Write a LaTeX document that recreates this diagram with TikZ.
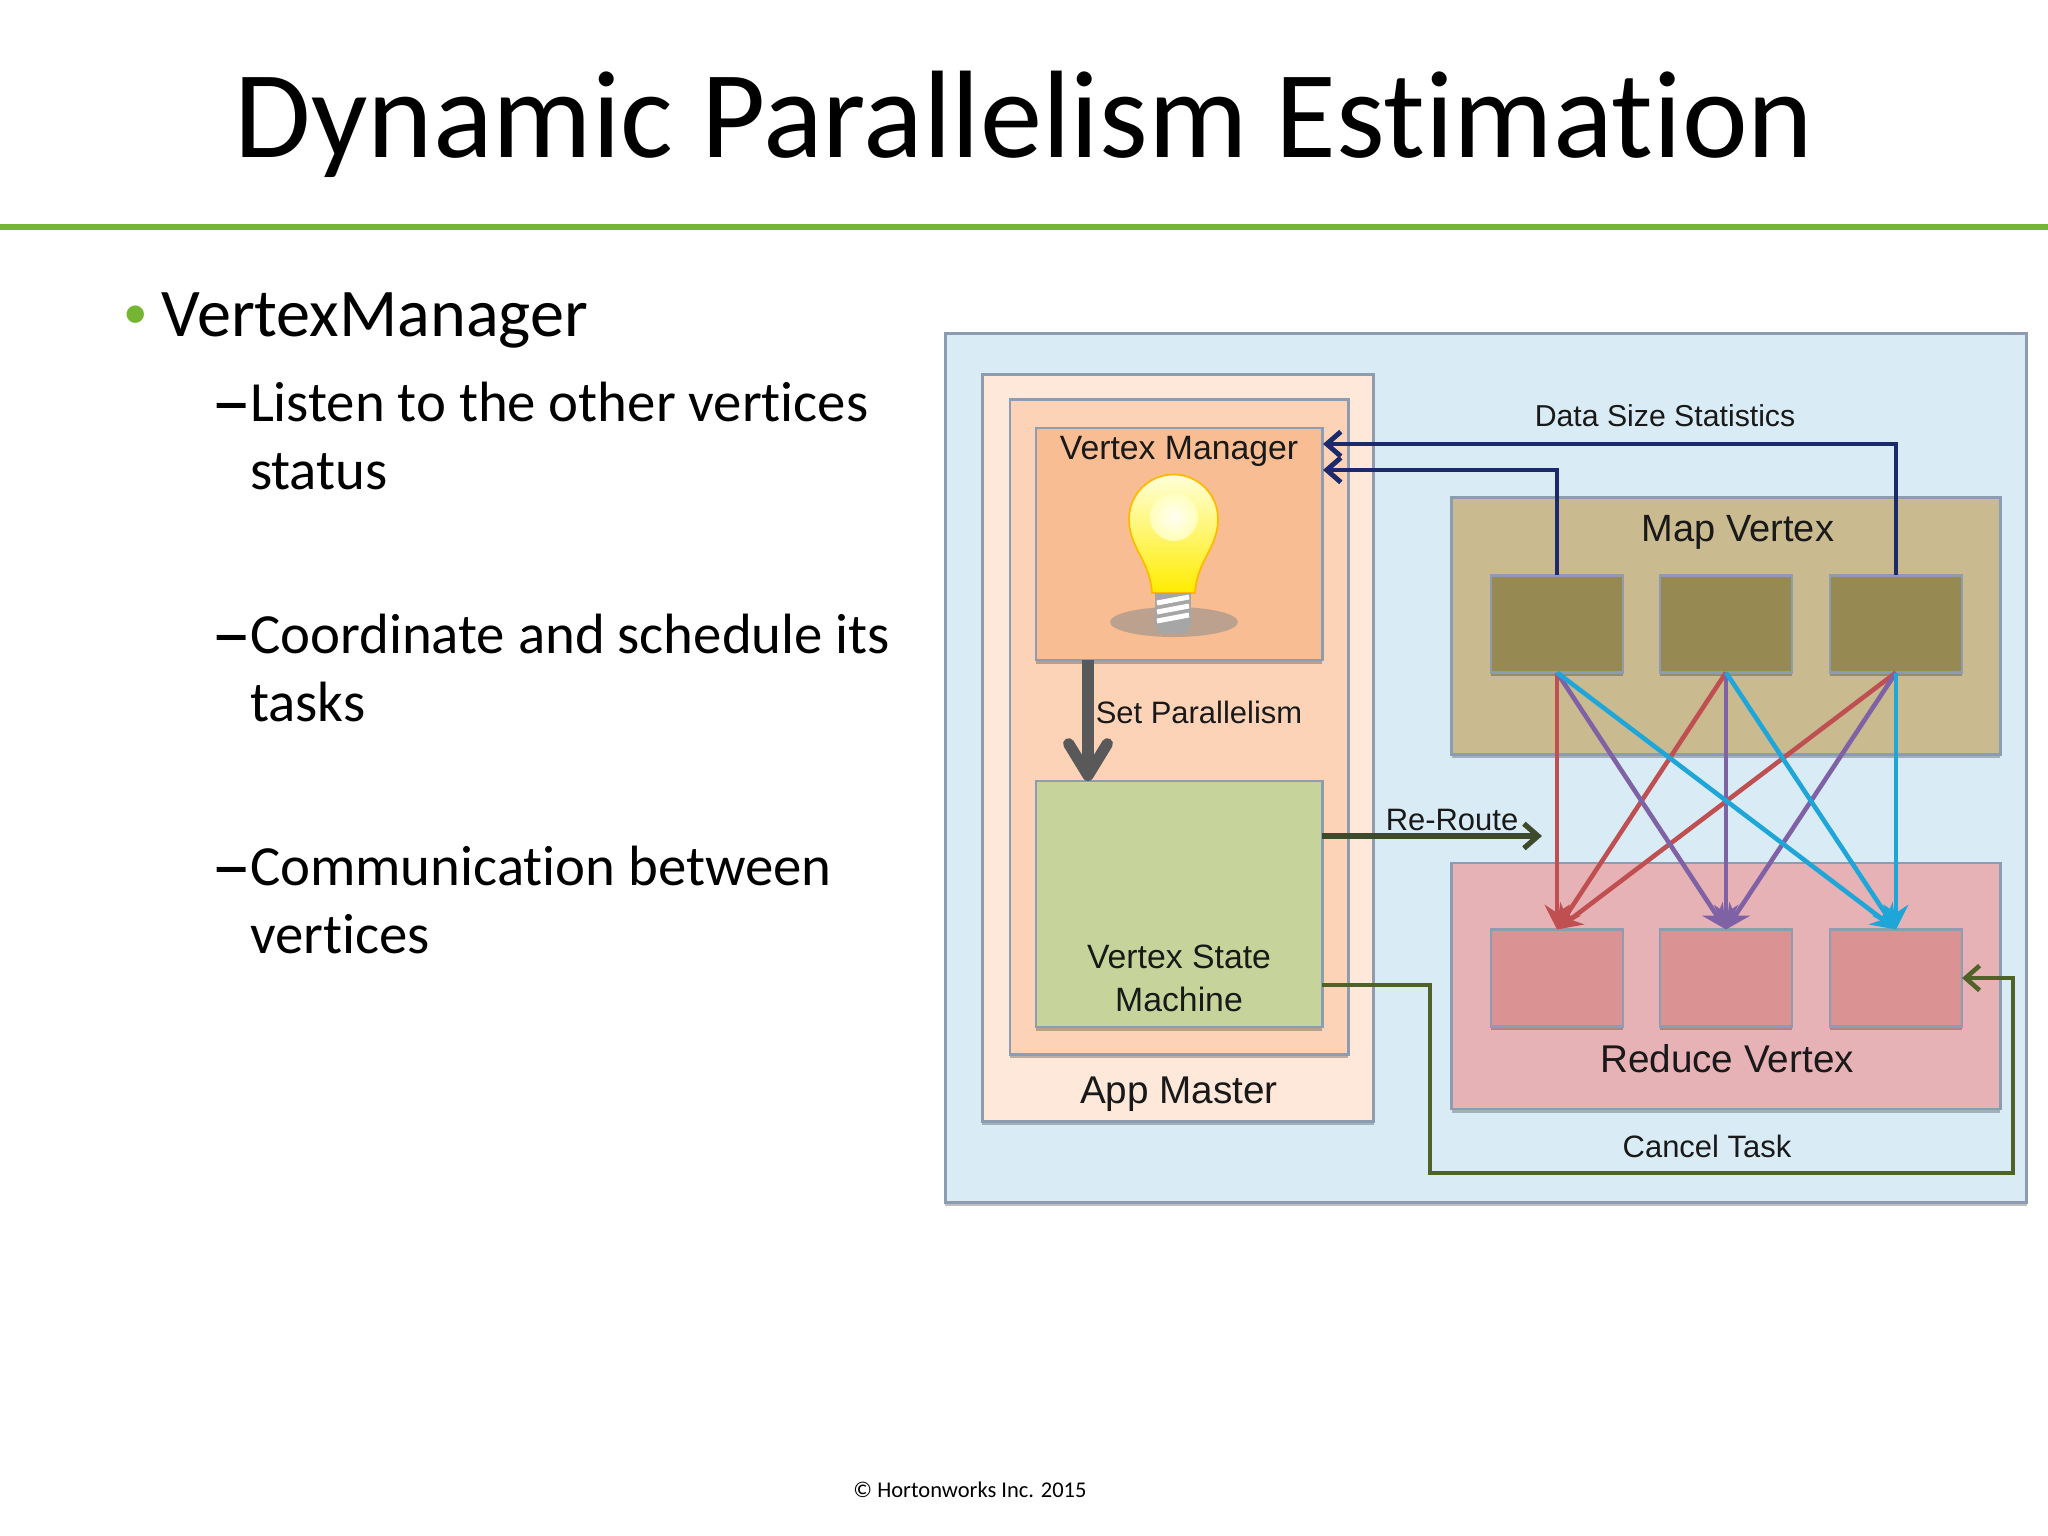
\documentclass[tikz,border=0pt]{standalone}
\usepackage{fontspec}
\setmainfont[Ligatures=NoCommon]{Carlito}
\newfontfamily\labelfont{Liberation Sans}
\usetikzlibrary{arrows.meta,shadows}
\definecolor{rulegreen}{HTML}{76B531}
\definecolor{outerfill}{HTML}{D9ECF5}
\definecolor{appfill}{HTML}{FDE8D9}
\definecolor{innerfill}{HTML}{FCD3B6}
\definecolor{managerfill}{HTML}{F8BD92}
\definecolor{statefill}{HTML}{C6D49B}
\definecolor{mapfill}{HTML}{C9BA8F}
\definecolor{maptask}{HTML}{968952}
\definecolor{reducefill}{HTML}{E7B2B5}
\definecolor{reducetask}{HTML}{DA9292}
\definecolor{boxedge}{HTML}{8E9CB2}
\definecolor{navyline}{HTML}{1B2A6B}
\definecolor{redline}{HTML}{BF4F50}
\definecolor{purpleline}{HTML}{7F62A5}
\definecolor{blueline}{HTML}{1FA6D9}
\definecolor{cancelline}{HTML}{4F6228}
\definecolor{routeline}{HTML}{3D4A2C}
\definecolor{setline}{HTML}{595959}
\tikzset{
  box/.style={draw=boxedge,line width=0.8pt,inner sep=0pt,outer sep=0pt,
    drop shadow={shadow xshift=0pt,shadow yshift=-1pt,fill=black,opacity=.25}},
  lbl/.style={inner sep=0pt,outer sep=0pt,text=black!90,align=center},
  bodytext/.style={inner sep=0pt,outer sep=0pt,align=left,anchor=north west,
    font=\fontsize{16.15}{19.3}\selectfont},
  dashmark/.style={inner sep=0pt,outer sep=0pt,anchor=base west,
    font=\fontsize{23}{24}\selectfont},
  wire/.style={line width=1.3pt,-{Stealth[length=7pt,width=7pt]}},
  barb/.style={-{Straight Barb[length=4pt,width=7pt]}}
}
\begin{document}
\begin{tikzpicture}[x=0.01cm,y=-0.01cm]
\useasboundingbox (0,0) rectangle (2048,1536);

% Título
\node[inner sep=0pt,font=\fontsize{35.4}{40}\selectfont] (title) at (1024,124) {Dynamic Parallelism Estimation};
\fill[rulegreen] (0,224) rectangle (2048,230);

% Texto de la izquierda
\node[inner sep=0pt,anchor=base west,text=rulegreen,font=\fontsize{14}{20}\selectfont] (dot) at (123,328) {•};
\node[inner sep=0pt,anchor=base west,font=\fontsize{19.4}{22}\selectfont] (head) at (161,336) {VertexManager};
\node[dashmark] (dashA) at (211,428) {–};
\node[bodytext] (itemA) at (250,382) {Listen to the other vertices\\status};
\node[dashmark] (dashB) at (211,660) {–};
\node[bodytext] (itemB) at (250,614) {Coordinate and schedule its\\tasks};
\node[dashmark] (dashC) at (211,892) {–};
\node[bodytext] (itemC) at (250,846) {Communication between\\vertices};
\node[inner sep=0pt,font=\fontsize{6.4}{8}\selectfont] (foot) at (970,1490) {© Hortonworks Inc. 2015};

% Cajas
\node[box,fill=outerfill,minimum width=10.81cm,minimum height=8.69cm] (outer) at (1486,768) {};
\node[box,fill=appfill,minimum width=3.91cm,minimum height=7.47cm] (app) at (1178,748) {};
\node[box,fill=innerfill,minimum width=3.38cm,minimum height=6.54cm] (inner) at (1179,727) {};
\node[box,fill=managerfill,minimum width=2.86cm,minimum height=2.32cm] (manager) at (1179,544) {};
\node[box,fill=statefill,minimum width=2.86cm,minimum height=2.46cm] (state) at (1179,904) {};
\node[box,fill=mapfill,minimum width=5.48cm,minimum height=2.57cm] (map) at (1726,626) {};
\node[box,fill=reducefill,minimum width=5.48cm,minimum height=2.46cm] (reduce) at (1726,986) {};

% Tareas
\node[box,fill=maptask,minimum width=1.32cm,minimum height=0.97cm] (mapA) at (1557,624) {};
\node[box,fill=maptask,minimum width=1.32cm,minimum height=0.97cm] (mapB) at (1726,624) {};
\node[box,fill=maptask,minimum width=1.32cm,minimum height=0.97cm] (mapC) at (1896,624) {};
\node[box,fill=reducetask,minimum width=1.32cm,minimum height=0.97cm] (redA) at (1557,978) {};
\node[box,fill=reducetask,minimum width=1.32cm,minimum height=0.97cm] (redB) at (1726,978) {};
\node[box,fill=reducetask,minimum width=1.32cm,minimum height=0.97cm] (redC) at (1896,978) {};

% Bombilla
\fill[black!45,opacity=.55] (1174,622) ellipse[x radius=64,y radius=15];
\shade[top color=yellow!15,bottom color=yellow!85!orange,draw=orange!55!yellow,line width=0.5pt]
(1152,593) .. controls (1150,560) and (1129,548) .. (1129,519)
arc[start angle=180,end angle=360,radius=44.5]
.. controls (1218,548) and (1197,560) .. (1195,593) -- cycle;
\shade[inner color=white,outer color=yellow!25,opacity=.9] (1174,517) circle[radius=24];
\fill[black!35] (1155,593) rectangle (1191,628);
\fill[black!35] (1158,628) rectangle (1188,633);
\draw[white,line width=1.4pt] (1157,603) -- (1189,597);
\draw[white,line width=1.4pt] (1157,612) -- (1189,606);
\draw[white,line width=1.4pt] (1157,621) -- (1189,615);

% Flechas de datos
\coordinate (inTop) at (1323,444);
\coordinate (inLow) at (1323,470);
\draw[navyline,barb,line width=1.4pt] (mapC.north) |- (inTop);
\draw[navyline,barb,line width=1.4pt] (mapA.north) |- (inLow);
\coordinate (setEnd) at (1088,781);
\draw[setline,line width=3.2pt,-{Straight Barb[length=9pt,width=11pt,round]}] (manager.south -| setEnd) -- (setEnd);

\coordinate (routeEnd) at (1542,836);
\coordinate (cancelStart) at (1322,985);
\coordinate (cancelBend) at (1430,1173);
\coordinate (cancelTop) at (2013,978);
\draw[routeline,barb,line width=1.5pt] (state.east |- routeEnd) -- (routeEnd);
\draw[cancelline,barb,line width=1.3pt] (state.east |- cancelStart) -| (cancelBend) -| (cancelTop) -- (redC.east);

% Cruces
\draw[redline,wire] (mapA.south) -- (redA.north);
\draw[redline,wire] (mapB.south) -- (redA.north);
\draw[redline,wire] (mapC.south) -- (redA.north);
\draw[purpleline,wire] (mapA.south) -- (redB.north);
\draw[purpleline,wire] (mapB.south) -- (redB.north);
\draw[purpleline,wire] (mapC.south) -- (redB.north);
\draw[blueline,wire] (mapA.south) -- (redC.north);
\draw[blueline,wire] (mapB.south) -- (redC.north);
\draw[blueline,wire] (mapC.south) -- (redC.north);

% Etiquetas
\node[lbl,font=\labelfont\fontsize{9.6}{12}\selectfont] (managerText) at (1179,451) {Vertex Manager};
\node[lbl,font=\labelfont\fontsize{8.8}{12}\selectfont] (setText) at (1199,712) {Set Parallelism};
\node[lbl,font=\labelfont\fontsize{9.6}{12.2}\selectfont] (stateText) at (1179,978) {Vertex State\\Machine};
\node[lbl,font=\labelfont\fontsize{11}{13}\selectfont] (appText) at (1179,1094) {App Master};
\node[lbl,font=\labelfont\fontsize{8.6}{11}\selectfont] (dataText) at (1665,416) {Data Size Statistics};
\node[lbl,font=\labelfont\fontsize{8.8}{11}\selectfont] (routeText) at (1452,820) {Re-Route};
\node[lbl,font=\labelfont\fontsize{10.8}{13}\selectfont] (mapText) at (1738,532) {Map Vertex};
\node[lbl,font=\labelfont\fontsize{11}{13}\selectfont] (reduceText) at (1727,1059) {Reduce Vertex};
\node[lbl,font=\labelfont\fontsize{8.8}{11}\selectfont] (cancelText) at (1707,1146) {Cancel Task};

\end{tikzpicture}
\end{document}
